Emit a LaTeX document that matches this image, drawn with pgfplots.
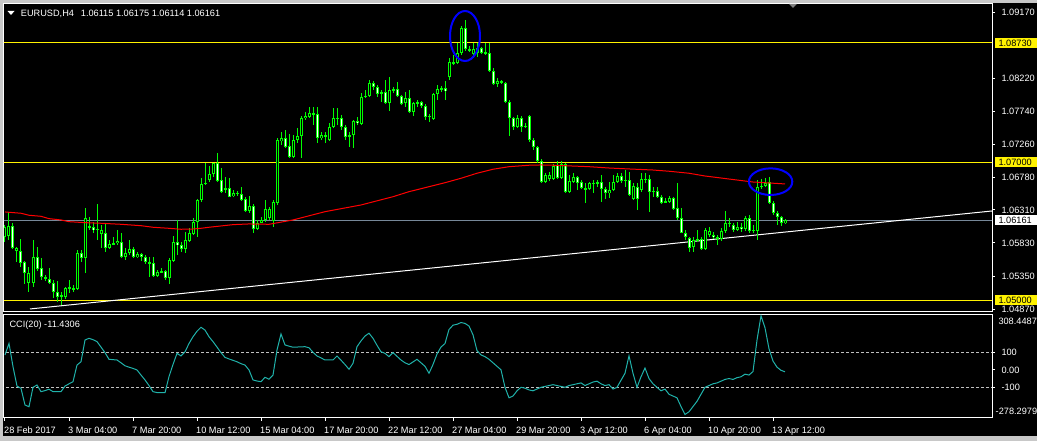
\documentclass[border=0pt]{standalone}
\usepackage{pgfplots}
\pgfplotsset{compat=1.18}
\usepackage{pgfplotstable}
\usepackage{fontspec}
\setmainfont{Liberation Sans}
\definecolor{mtgreen}{RGB}{0,255,0}
\definecolor{ccicol}{RGB}{32,178,170}
\definecolor{bidgray}{RGB}{119,136,153}
\definecolor{borderg}{RGB}{200,200,200}
\definecolor{lvlgray}{RGB}{192,192,192}
\newcommand\mt{\fontsize{9.2}{11}\selectfont}

\pgfplotstableread{
i o h l c
0 1.05922 1.06091 1.05850 1.06057
1 1.05932 1.06284 1.05874 1.06077
2 1.06077 1.06115 1.05738 1.05753
3 1.05714 1.05777 1.05560 1.05763
4 1.05714 1.05888 1.05487 1.05545
5 1.05550 1.05574 1.05236 1.05391
6 1.05246 1.05487 1.05125 1.05391
7 1.05246 1.05874 1.05197 1.05622
8 1.05622 1.05777 1.05429 1.05449
9 1.05463 1.05608 1.05294 1.05333
10 1.05342 1.05366 1.05284 1.05313
11 1.05313 1.05463 1.05236 1.05246
12 1.05246 1.05294 1.05028 1.05125
13 1.05125 1.05284 1.04980 1.05052
14 1.05062 1.05125 1.04932 1.05072
15 1.05052 1.05197 1.05014 1.05178
16 1.05168 1.05294 1.05101 1.05188
17 1.05178 1.05222 1.05125 1.05164
18 1.05159 1.05729 1.05149 1.05680
19 1.05680 1.05729 1.05560 1.05608
20 1.05608 1.06333 1.05391 1.06188
21 1.06077 1.06212 1.06019 1.06057
22 1.06057 1.06139 1.05970 1.06019
23 1.06038 1.06395 1.05874 1.06014
24 1.05961 1.06091 1.05763 1.06019
25 1.05970 1.06115 1.05705 1.05763
26 1.05763 1.05874 1.05738 1.05811
27 1.05811 1.05922 1.05801 1.05825
28 1.05825 1.06019 1.05801 1.05864
29 1.05845 1.05980 1.05608 1.05622
30 1.05622 1.05753 1.05584 1.05680
31 1.05680 1.05874 1.05656 1.05743
32 1.05743 1.05767 1.05608 1.05622
33 1.05622 1.05705 1.05608 1.05671
34 1.05671 1.05690 1.05574 1.05632
35 1.05632 1.05656 1.05526 1.05550
36 1.05550 1.05632 1.05342 1.05540
37 1.05536 1.05632 1.05342 1.05352
38 1.05352 1.05439 1.05342 1.05410
39 1.05410 1.05463 1.05391 1.05420
40 1.05420 1.05439 1.05294 1.05318
41 1.05318 1.05608 1.05236 1.05584
42 1.05574 1.05932 1.05560 1.05840
43 1.05840 1.06164 1.05656 1.05796
44 1.05796 1.05850 1.05705 1.05748
45 1.05743 1.05995 1.05680 1.05874
46 1.05864 1.06043 1.05850 1.05970
47 1.05961 1.06188 1.05946 1.06130
48 1.06130 1.06463 1.05922 1.06453
49 1.06453 1.06777 1.06429 1.06685
50 1.06705 1.06995 1.06671 1.06685
51 1.06743 1.06946 1.06719 1.06830
52 1.06830 1.06995 1.06792 1.06985
53 1.06995 1.07139 1.06719 1.06734
54 1.06743 1.06912 1.06560 1.06574
55 1.06623 1.06792 1.06560 1.06598
56 1.06623 1.06767 1.06492 1.06502
57 1.06511 1.06598 1.06492 1.06550
58 1.06560 1.06589 1.06511 1.06550
59 1.06540 1.06647 1.06444 1.06453
60 1.06468 1.06502 1.06284 1.06294
61 1.06294 1.06511 1.06270 1.06366
62 1.06366 1.06395 1.05980 1.06028
63 1.06028 1.06164 1.06019 1.06125
64 1.06125 1.06202 1.06115 1.06164
65 1.06164 1.06453 1.06139 1.06328
66 1.06188 1.06357 1.06164 1.06318
67 1.06154 1.06453 1.06067 1.06424
68 1.06415 1.07347 1.06381 1.07323
69 1.07313 1.07444 1.07251 1.07347
70 1.07357 1.07468 1.07202 1.07226
71 1.07236 1.07410 1.07057 1.07081
72 1.07081 1.07395 1.07057 1.07323
73 1.07323 1.07492 1.07275 1.07381
74 1.07381 1.07671 1.07057 1.07637
75 1.07637 1.07734 1.07613 1.07671
76 1.07661 1.07806 1.07637 1.07709
77 1.07709 1.07806 1.07540 1.07690
78 1.07695 1.07796 1.07275 1.07347
79 1.07347 1.07444 1.07323 1.07391
80 1.07371 1.07444 1.07275 1.07391
81 1.07323 1.07564 1.07313 1.07516
82 1.07507 1.07782 1.07492 1.07637
83 1.07632 1.07782 1.07540 1.07647
84 1.07647 1.07685 1.07468 1.07507
85 1.07516 1.07540 1.07323 1.07362
86 1.07362 1.07444 1.07226 1.07391
87 1.07395 1.07613 1.07202 1.07598
88 1.07598 1.07661 1.07540 1.07564
89 1.07550 1.07999 1.07540 1.07951
90 1.07951 1.08048 1.07927 1.07961
91 1.07961 1.08192 1.07941 1.08154
92 1.08154 1.08183 1.08048 1.08086
93 1.08086 1.08120 1.07951 1.07990
94 1.07990 1.08048 1.07878 1.08019
95 1.08023 1.08192 1.07845 1.07864
96 1.07864 1.08241 1.07748 1.08048
97 1.08048 1.08096 1.07999 1.08057
98 1.08057 1.08168 1.07951 1.07965
99 1.07965 1.07975 1.07830 1.07845
100 1.07854 1.08023 1.07806 1.07927
101 1.07927 1.08048 1.07719 1.07734
102 1.07734 1.07878 1.07671 1.07854
103 1.07854 1.07903 1.07806 1.07869
104 1.07869 1.07893 1.07782 1.07816
105 1.07816 1.07845 1.07613 1.07661
106 1.07661 1.07700 1.07589 1.07671
107 1.07622 1.07999 1.07613 1.07990
108 1.07990 1.08120 1.07903 1.08062
109 1.08062 1.08106 1.08023 1.08072
110 1.08072 1.08183 1.07903 1.08033
111 1.08241 1.08507 1.08192 1.08449
112 1.08449 1.08555 1.08410 1.08434
113 1.08434 1.08724 1.08424 1.08579
114 1.08579 1.08975 1.08555 1.08941
115 1.08941 1.09062 1.08618 1.08637
116 1.08637 1.08685 1.08603 1.08618
117 1.08569 1.08724 1.08540 1.08637
118 1.08579 1.08724 1.08531 1.08651
119 1.08651 1.08676 1.08569 1.08589
120 1.08579 1.08724 1.08555 1.08603
121 1.08589 1.08724 1.08313 1.08328
122 1.08328 1.08362 1.08120 1.08135
123 1.08135 1.08217 1.08086 1.08183
124 1.08183 1.08192 1.08135 1.08154
125 1.08154 1.08168 1.07864 1.07878
126 1.07878 1.07903 1.07381 1.07637
127 1.07637 1.07661 1.07468 1.07507
128 1.07507 1.07685 1.07492 1.07637
129 1.07637 1.07671 1.07444 1.07516
130 1.07516 1.07564 1.07492 1.07526
131 1.07671 1.07685 1.07299 1.07323
132 1.07323 1.07347 1.07178 1.07217
133 1.07217 1.07240 1.06985 1.07023
134 1.07023 1.07043 1.06705 1.06719
135 1.06719 1.06850 1.06705 1.06816
136 1.06753 1.06864 1.06734 1.06816
137 1.06753 1.06975 1.06743 1.06951
138 1.06961 1.07023 1.06753 1.06767
139 1.06767 1.07023 1.06753 1.06975
140 1.06975 1.06985 1.06560 1.06574
141 1.06574 1.06816 1.06560 1.06734
142 1.06719 1.06840 1.06705 1.06782
143 1.06782 1.06801 1.06598 1.06705
144 1.06719 1.06743 1.06608 1.06623
145 1.06623 1.06695 1.06415 1.06613
146 1.06613 1.06719 1.06598 1.06695
147 1.06695 1.06743 1.06550 1.06705
148 1.06685 1.06743 1.06647 1.06714
149 1.06714 1.06816 1.06429 1.06608
150 1.06608 1.06647 1.06463 1.06550
151 1.06550 1.06719 1.06478 1.06598
152 1.06598 1.06816 1.06589 1.06714
153 1.06714 1.06840 1.06695 1.06801
154 1.06801 1.06850 1.06705 1.06734
155 1.06734 1.06888 1.06647 1.06743
156 1.06743 1.06864 1.06511 1.06526
157 1.06463 1.06705 1.06453 1.06656
158 1.06647 1.06695 1.06308 1.06463
159 1.06598 1.06840 1.06574 1.06753
160 1.06753 1.06840 1.06695 1.06763
161 1.06763 1.06816 1.06284 1.06574
162 1.06574 1.06647 1.06502 1.06589
163 1.06589 1.06647 1.06478 1.06492
164 1.06492 1.06526 1.06395 1.06415
165 1.06415 1.06478 1.06405 1.06444
166 1.06429 1.06511 1.06405 1.06482
167 1.06482 1.06502 1.06308 1.06318
168 1.06333 1.06695 1.06164 1.06188
169 1.06188 1.06333 1.05970 1.05980
170 1.05980 1.06019 1.05874 1.05912
171 1.05898 1.05922 1.05705 1.05753
172 1.05767 1.05912 1.05705 1.05874
173 1.05874 1.06019 1.05850 1.05883
174 1.05883 1.05922 1.05729 1.05748
175 1.05748 1.06043 1.05729 1.06019
176 1.05946 1.06057 1.05922 1.06009
177 1.05946 1.05995 1.05883 1.05912
178 1.05912 1.05946 1.05801 1.05893
179 1.05883 1.06043 1.05864 1.06009
180 1.06009 1.06299 1.05980 1.06125
181 1.06125 1.06188 1.06057 1.06106
182 1.06091 1.06125 1.05995 1.06019
183 1.06019 1.06139 1.06009 1.06067
184 1.06067 1.06115 1.05995 1.06028
185 1.06028 1.06221 1.06009 1.06188
186 1.06188 1.06236 1.05980 1.06009
187 1.06009 1.06091 1.05970 1.06019
188 1.06004 1.06743 1.05874 1.06647
189 1.06647 1.06753 1.06608 1.06656
190 1.06656 1.06767 1.06647 1.06705
191 1.06719 1.06782 1.06395 1.06415
192 1.06415 1.06444 1.06236 1.06270
193 1.06270 1.06299 1.06091 1.06202
194 1.06202 1.06221 1.06077 1.06125
195 1.06115 1.06175 1.06114 1.06161
}\candles

\pgfplotstableread{
i ma
0 1.06280
4 1.06261
6 1.06232
9 1.06217
11 1.06183
14 1.06164
16 1.06139
20 1.06125
24 1.06116
29 1.06101
34 1.06081
37 1.06058
41 1.06043
44 1.06029
47 1.06033
49 1.06043
51 1.06058
54 1.06077
57 1.06096
61 1.06106
66 1.06101
72 1.06164
80 1.06284
89 1.06381
97 1.06501
101 1.06574
106 1.06646
110 1.06704
114 1.06768
118 1.06841
122 1.06899
126 1.06936
131 1.06957
134 1.06961
137 1.06957
146 1.06936
151 1.06917
156 1.06903
162 1.06888
166 1.06870
171 1.06841
175 1.06801
179 1.06772
183 1.06743
187 1.06714
191 1.06700
195 1.06686
}\maline

\pgfplotstableread{
i cci
0 85
1 151
2 18
3 -93
4 -106
5 -201
6 -211
7 -100
8 -87
9 -125
10 -119
11 -111
12 -125
13 -125
14 -125
15 -93
16 -80
17 -68
18 27
19 46
20 170
21 180
22 172
23 161
24 130
25 98
26 60
27 58
28 56
29 40
30 23
31 15
32 8
33 -1
34 -30
35 -58
36 -90
37 -125
38 -130
39 -131
40 -131
41 -39
42 30
43 94
44 79
45 103
46 150
47 189
48 220
49 243
50 227
51 189
52 161
53 130
54 98
55 71
56 62
57 54
58 46
59 35
60 27
61 -1
62 -58
63 -64
64 -68
65 -43
66 -54
67 -30
68 113
69 205
70 142
71 135
72 129
73 130
74 131
75 132
76 126
77 100
78 79
79 68
80 56
81 56
82 56
83 79
84 55
85 30
86 3
87 37
88 132
89 165
90 193
91 209
92 180
93 140
94 103
95 94
96 75
97 98
98 77
99 56
100 40
101 30
102 45
103 60
104 40
105 20
106 -20
107 30
108 90
109 130
110 150
111 230
112 255
113 260
114 270
115 265
116 250
117 200
118 110
119 85
120 75
121 60
122 40
123 20
124 0
125 -100
126 -160
127 -150
128 -120
129 -100
130 -105
131 -115
132 -120
133 -110
134 -100
135 -95
136 -90
137 -85
138 -90
139 -95
140 -100
141 -90
142 -85
143 -80
144 -75
145 -90
146 -80
147 -70
148 -65
149 -80
150 -90
151 -85
152 -110
153 -100
154 -60
155 -20
156 80
157 -20
158 -100
159 -40
160 10
161 -50
162 -80
163 -100
164 -120
165 -110
166 -140
167 -150
168 -160
169 -210
170 -255
171 -240
172 -210
173 -180
174 -140
175 -100
176 -90
177 -80
178 -75
179 -65
180 -55
181 -50
182 -55
183 -45
184 -40
185 -25
186 -30
187 -10
188 170
189 308.4487
190 240
191 120
192 50
193 15
194 -3
195 -11.4306
}\ccidata

\begin{document}
\begin{tikzpicture}[x=1pt,y=1pt]
\fill[borderg] (0,0) rectangle (1037,441);
\fill[black] (3,5) rectangle (1037,438);

% ---------------- main price window ----------------
\begin{axis}[
  at={(4pt,129pt)}, anchor=south west, scale only axis,
  width=988pt, height=308pt,
  xmin=-0.25, xmax=246.75, ymin=1.04830, ymax=1.09294,
  axis line style={white, line width=1pt},
  xtick=\empty, scaled y ticks=false,
  ytick={1.04870,1.05350,1.05830,1.06310,1.06780,1.07260,1.07740,1.08220,1.09170},
  yticklabels={1.04870,1.05350,1.05830,1.06310,1.06780,1.07260,1.07740,1.08220,1.09170},
  ytick pos=right, yticklabel pos=right, tick align=outside,
  major tick length=3pt, major tick style={white, line width=1pt},
  yticklabel style={font=\mt, text=white, inner sep=0pt, anchor=base west, xshift=6.3pt, yshift=-3.3pt},
]
% levels
\addplot[yellow, line width=1pt, forget plot] coordinates {(-1,1.08730) (250,1.08730)};
\addplot[yellow, line width=1pt, forget plot] coordinates {(-1,1.07000) (250,1.07000)};
\addplot[yellow, line width=1pt, forget plot] coordinates {(-1,1.05000) (250,1.05000)};
\addplot[bidgray, line width=1pt, forget plot] coordinates {(-1,1.06161) (250,1.06161)};
\addplot[white, line width=1pt, forget plot] coordinates {(6.25,1.04874) (246.75,1.06294)};
% wicks
\addplot[draw=none, mark=none, forget plot,
  error bars/.cd, y dir=both, y explicit, error mark=none,
  error bar style={draw=mtgreen, line width=1pt}]
  table[x=i, y expr={(\thisrow{h}+\thisrow{l})/2}, y error expr={(\thisrow{h}-\thisrow{l})/2}] {\candles};
% bodies (outline)
\addplot[draw=none, mark=none, forget plot,
  error bars/.cd, y dir=both, y explicit, error mark=none,
  error bar style={draw=mtgreen, line width=3pt}]
  table[x=i, y expr={(\thisrow{o}+\thisrow{c})/2}, y error expr={max(abs(\thisrow{c}-\thisrow{o})/2,0.00007)}] {\candles};
% bull interior (black)
\addplot[draw=none, mark=none, forget plot,
  error bars/.cd, y dir=both, y explicit, error mark=none,
  error bar style={draw=black, line width=1pt}]
  table[x=i, y expr={(\thisrow{o}+\thisrow{c})/2}, y error expr={max((\thisrow{c}-\thisrow{o})/2-0.000145,0)}] {\candles};
% bear interior (white)
\addplot[draw=none, mark=none, forget plot,
  error bars/.cd, y dir=both, y explicit, error mark=none,
  error bar style={draw=white, line width=1pt}]
  table[x=i, y expr={(\thisrow{o}+\thisrow{c})/2}, y error expr={max((\thisrow{o}-\thisrow{c})/2-0.000145,0)}] {\candles};
% moving average
\addplot[red, line width=1pt, forget plot] table[x=i, y=ma] {\maline};
% annotations
\draw[blue, line width=2pt] (axis cs:115,1.08830) ellipse [x radius=15pt, y radius=25pt];
\draw[blue, line width=2pt] (axis cs:191.4,1.06719) ellipse [x radius=21.7pt, y radius=13.3pt];
\coordinate (L1) at (axis cs:246.75,1.08730);
\coordinate (L2) at (axis cs:246.75,1.07000);
\coordinate (L3) at (axis cs:246.75,1.05000);
\coordinate (L4) at (axis cs:246.75,1.06161);
\end{axis}

% ---------------- CCI window ----------------
\begin{axis}[
  at={(4pt,23pt)}, anchor=south west, scale only axis,
  width=988pt, height=103.7pt,
  xmin=-0.25, xmax=246.75, ymin=-275.4, ymax=317.1,
  axis line style={white, line width=1pt},
  ytick={-100,0,100}, yticklabels={-100,0.00,100},
  xtick={0,16,32,48,64,80,96,112,128,144,160,176,192},
  xticklabels={28 Feb 2017,3 Mar 04:00,7 Mar 20:00,10 Mar 12:00,15 Mar 04:00,17 Mar 20:00,22 Mar 12:00,27 Mar 04:00,29 Mar 20:00,3 Apr 12:00,6 Apr 04:00,10 Apr 20:00,13 Apr 12:00},
  ytick pos=right, yticklabel pos=right, xtick pos=bottom, tick align=outside,
  major tick length=3pt, major tick style={white, line width=1pt},
  yticklabel style={font=\mt, text=white, inner sep=0pt, anchor=base west, xshift=6.3pt, yshift=-3.3pt},
  xticklabel style={font=\mt, text=white, inner sep=0pt, anchor=base west, xshift=-1pt, yshift=-12.8pt},
]
\addplot[lvlgray, line width=1pt, dash pattern=on 3pt off 2pt, forget plot] coordinates {(-1,100) (250,100)};
\addplot[lvlgray, line width=1pt, dash pattern=on 3pt off 2pt, forget plot] coordinates {(-1,-100) (250,-100)};
\addplot[ccicol, line width=1pt, forget plot] table[x=i, y=cci] {\ccidata};
\end{axis}

% value boxes on the price scale
\foreach \c/\t/\f in {L1/1.08730/yellow, L2/1.07000/yellow, L3/1.05000/yellow, L4/1.06161/white}{
  \node[fill=\f, text=black, anchor=west, inner sep=0pt, minimum height=10pt, text width=42.5pt, align=left, font=\mt]
    at ([xshift=2.3pt]\c) {\hspace*{4pt}\t};
}
% top and bottom CCI scale labels
\node[font=\mt, text=white, anchor=base west, inner sep=0pt] at (998.3,116) {308.4487};
\node[font=\mt, text=white, anchor=base west, inner sep=0pt] at (995.5,26.7) {-278.2979};

% header texts
\fill[white] (7.5,430) -- (14.5,430) -- (11,426) -- cycle;
\node[font=\mt, text=white, anchor=base west, inner sep=0pt] at (20.7,424.3) {EURUSD,H4};
\node[font=\mt, text=white, anchor=base west, inner sep=0pt] at (80.7,424.3) {1.06115 1.06175 1.06114 1.06161};
\node[font=\mt, text=white, anchor=base west, inner sep=0pt] at (9.3,113.7) {CCI(20) -11.4306};
% chart shift marker
\fill[gray] (789,437) -- (797,437) -- (793,433) -- cycle;

\pgfresetboundingbox
\useasboundingbox (0,0) rectangle (1037,441);
\end{tikzpicture}
\end{document}
